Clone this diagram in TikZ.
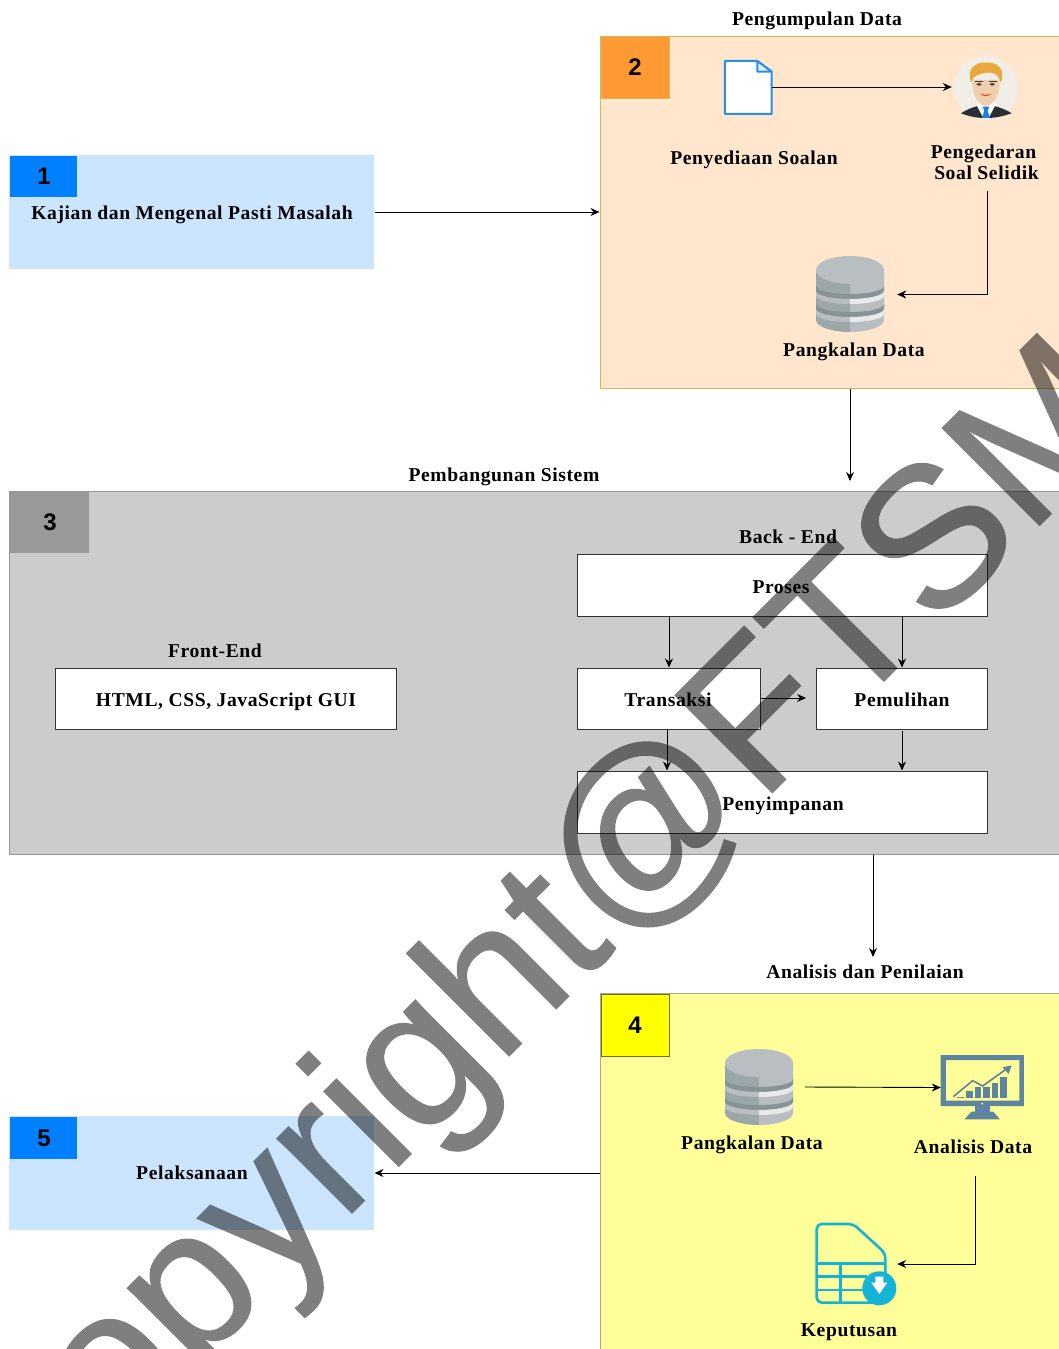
\documentclass[tikz,border=0pt]{standalone}
\usepackage{fontspec}
\setmainfont{Liberation Serif}
\newfontfamily\labfont[LetterSpace=3.0]{Liberation Serif}
\newfontfamily\numfont{Liberation Sans}
\newfontfamily\wmfont[FakeBold=0.6]{Liberation Sans}
\usetikzlibrary{arrows.meta}
\definecolor{dbL}{HTML}{9CA7A9}
\definecolor{dbR}{HTML}{B9BEC3}
\definecolor{dbD}{HTML}{879396}
\definecolor{dbW}{HTML}{E6EAEC}
\definecolor{mon}{HTML}{5F84A0}
\definecolor{tbl}{HTML}{14B4D6}
\definecolor{docb}{HTML}{2A8FE8}
\definecolor{lb}{HTML}{CCE5FF}
\definecolor{pch}{HTML}{FFE6CC}
\definecolor{pchb}{HTML}{D6B656}
\definecolor{gry}{HTML}{CCCCCC}
\definecolor{gryb}{HTML}{969696}
\definecolor{ylw}{HTML}{FFFF99}
\definecolor{ylwb}{HTML}{AFA58C}
\definecolor{tagb}{HTML}{007FFF}
\definecolor{tago}{HTML}{FF9933}
\definecolor{tagg}{HTML}{999999}
\definecolor{tagy}{HTML}{FFFF00}
\definecolor{tagyb}{HTML}{6E6E32}
\definecolor{hair}{HTML}{E8A83C}
\definecolor{skin}{HTML}{EFCFAE}
\definecolor{perbg}{HTML}{F1EDE7}
\definecolor{suit}{HTML}{2A2E35}
\definecolor{tie}{HTML}{1E7FD6}
\newcommand{\dbband}[5]{%
 \fill[#4] (-34,#1) arc[start angle=180,end angle=270,x radius=34pt,y radius=#3pt] -- (0,#2+#3) arc[start angle=270,end angle=180,x radius=34pt,y radius=#3pt] -- cycle;
 \fill[#5] (0,#1+#3) arc[start angle=270,end angle=360,x radius=34pt,y radius=#3pt] -- (34,#2) arc[start angle=0,end angle=-90,x radius=34pt,y radius=#3pt] -- cycle;}
\newcommand{\dbicon}[2]{%
\begin{scope}[shift={(#1,#2)}]
 \dbband{14}{64}{12}{dbL}{dbR}
 \dbband{30}{35}{8}{dbD}{dbD}
 \dbband{35}{40}{8}{dbR}{dbW}
 \dbband{48}{53}{8}{dbD}{dbD}
 \dbband{53}{58}{8}{dbR}{dbW}
 \fill[dbR] (0,14) ellipse[x radius=34pt,y radius=14pt];
 \fill[dbR] (0,14) rectangle (34,30);
\end{scope}}
\tikzset{
 lab/.style={font=\labfont\bfseries\fontsize{19.6}{21}\selectfont,inner sep=0pt,align=center,text=black,text height=17.5pt,text depth=3.5pt},
 num/.style={font=\numfont\bfseries\fontsize{24}{24}\selectfont,inner sep=0pt,text=black},
 whitebox/.style={draw=black!80,fill=white,line width=1pt,inner sep=0pt},
 conn/.style={draw=black,line width=0.9pt,-{Stealth[length=9pt,width=8pt]}},
 region/.style={inner sep=0pt,line width=1pt},
 icon/.style={inner sep=0pt,minimum size=0pt}
}
\begin{document}
\begin{tikzpicture}[x=1pt,y=-1pt]
\useasboundingbox (0,0) rectangle (1059,1349);
\clip (0,0) rectangle (1059,1349);
\fill[white] (0,0) rectangle (1059,1349);
% regions
\node[region,fill=lb,minimum width=365pt,minimum height=114pt] (b1) at (191.5,212) {};
\node[region,fill=lb,minimum width=365pt,minimum height=114pt] (b5) at (191.5,1173) {};
\node[region,fill=pch,draw=pchb,minimum width=462pt,minimum height=352pt] (b2) at (831,212) {};
\node[region,fill=gry,draw=gryb,minimum width=1053pt,minimum height=363pt] (b3) at (535.5,672.5) {};
\node[region,fill=ylw,draw=ylwb,minimum width=462pt,minimum height=359pt] (b4) at (831,1172.5) {};
% tags
\node[region,fill=tagb,minimum width=67pt,minimum height=41pt,num] (t1) at (43.5,176.5) {\hspace*{1pt}1};
\node[region,fill=tagb,minimum width=67pt,minimum height=42pt,num] (t5) at (43.5,1138) {\hspace*{1pt}5};
\node[region,fill=tago,draw=pchb,minimum width=68pt,minimum height=62pt,num] (t2) at (635,67) {2};
\node[region,fill=tagg,minimum width=79pt,minimum height=61pt,num] (t3) at (49.5,522.5) {\hspace*{1pt}3};
\node[region,fill=tagy,draw=tagyb,minimum width=68pt,minimum height=62pt,num] (t4) at (635,1025) {4};
% titles
\node[lab] (n1) at (192,212) {Kajian dan Mengenal Pasti Masalah};
\node[lab] (n5) at (192,1172) {Pelaksanaan};
\node[lab] (tt2) at (817,18) {Pengumpulan Data};
\node[lab] (tt3) at (504,474) {Pembangunan Sistem};
\node[lab] (tt4) at (865,971) {Analisis dan Penilaian};
\node[lab] (ss) at (754,157) {Penyediaan Soalan};
\node[lab] (ps1) at (983.5,151) {Pengedaran};
\node[lab] (ps2) at (986.5,172) {Soal Selidik};
\node[lab] (pd1) at (854,349) {Pangkalan Data};
\node[lab] (fe) at (215,650) {Front-End};
\node[lab] (be) at (788,536) {Back - End};
\node[lab] (pd2) at (752,1142) {Pangkalan Data};
\node[lab] (ad) at (973,1146) {Analisis Data};
\node[lab] (kp) at (849,1329) {Keputusan};
% white boxes
\node[whitebox,minimum width=341pt,minimum height=61pt] (gui) at (225.5,698.5) {};
\node[lab] (guit) at (226,699) {HTML, CSS, JavaScript GUI};
\node[whitebox,minimum width=410pt,minimum height=62pt] (pro) at (782,585) {};
\node[lab] (prot) at (781,586) {Proses};
\node[whitebox,minimum width=183pt,minimum height=61pt] (tra) at (668.5,698.5) {};
\node[lab] (trat) at (668,699) {Transaksi};
\node[whitebox,minimum width=171pt,minimum height=61pt] (pem) at (901.5,698.5) {};
\node[lab] (pemt) at (902,699) {Pemulihan};
\node[whitebox,minimum width=410pt,minimum height=62pt] (pen) at (782,802) {};
\node[lab] (pent) at (783,803) {Penyimpanan};
% icons: anchors
\node[icon,minimum width=47pt,minimum height=53pt] (doc) at (748.5,87) {};
\node[icon,minimum width=68pt,minimum height=66pt] (per) at (986,87) {};
\node[icon,minimum width=94pt,minimum height=76pt] (db1) at (850,294.5) {};
\node[icon,minimum width=92pt,minimum height=76pt] (db2) at (759,1087) {};
\node[icon,minimum width=83pt,minimum height=65pt] (mont) at (982.5,1087.5) {};
\node[icon,minimum width=162pt,minimum height=82pt] (tab) at (816,1264) {};
% doc icon
\begin{scope}[shift={(600,0)},x=0.3333pt,y=-0.3333pt]
 \draw[docb,fill=white,line width=2pt,line join=round] (375,183) -- (472,183) -- (515,215) -- (515,342) -- (375,342) -- cycle;
 \draw[docb,fill=white!85!docb,line width=2pt,line join=round] (472,183) -- (472,215) -- (515,215) -- cycle;
\end{scope}
% person icon
\begin{scope}[shift={(600,0)},x=0.3333pt,y=-0.3333pt]
 \fill[perbg] (1157,264) circle[radius=32pt];
 \fill[suit] (1083,340) .. controls (1105,325) and (1130,318) .. (1157,312) .. controls (1185,318) and (1212,325) .. (1235,340) .. controls (1205,350) and (1185,354) .. (1157,354) .. controls (1130,354) and (1110,350) .. (1083,340) -- cycle;
 \fill[white] (1128,312) -- (1157,300) -- (1188,312) -- (1168,350) -- (1148,350) -- cycle;
 \fill[tie] (1148,320) -- (1168,320) -- (1163,332) -- (1170,354) -- (1146,354) -- (1153,332) -- cycle;
 \fill[skin] (1118,240) -- (1118,262) .. controls (1122,300) and (1145,318) .. (1157,318) .. controls (1172,318) and (1194,300) .. (1198,262) -- (1198,240) -- cycle;
 \fill[hair] (1113,248) .. controls (1098,205) and (1130,185) .. (1157,188) .. controls (1190,185) and (1218,205) .. (1203,248) .. controls (1197,228) and (1185,215) .. (1160,218) .. controls (1140,222) and (1122,222) .. (1113,248) -- cycle;
 \fill[black!70] (1137,253) ellipse[x radius=2.5pt,y radius=1.3pt];
 \fill[black!70] (1177,253) ellipse[x radius=2.5pt,y radius=1.3pt];
 \fill[black!60!brown] (1124,242) rectangle (1148,245);
 \fill[black!60!brown] (1166,242) rectangle (1190,245);
 \fill[brown!70!red] (1140,281) .. controls (1150,285) and (1165,285) .. (1175,281) .. controls (1165,291) and (1150,291) .. (1140,281) -- cycle;
\end{scope}
% databases
\dbicon{850}{256}
\dbicon{759}{1049}
% monitor
\begin{scope}[shift={(600,980)},x=0.3333pt,y=-0.3333pt]
 \fill[mon,even odd rule] (1022,225) rectangle (1272,378) (1038,240) rectangle (1258,362);
 \fill[mon] (1125,378) rectangle (1170,395);
 \fill[mon] (1115,395) -- (1180,395) -- (1200,418) -- (1093,418) -- cycle;
 \fill[white] (1147,371) circle[radius=1pt];
 \fill[mon] (1098,332) rectangle (1118,355);
 \fill[mon] (1124,322) rectangle (1144,355);
 \fill[mon] (1150,322) rectangle (1170,355);
 \fill[mon] (1175,310) rectangle (1195,355);
 \fill[mon] (1200,292) rectangle (1220,355);
 \draw[mon,line width=1.6pt] (1060,350) -- (1118,302) -- (1148,318) -- (1222,265);
 \fill[mon] (1235,256) -- (1208,262) -- (1226,282) -- cycle;
 \fill[mon] (1070,350) rectangle (1092,355);
\end{scope}
% table icon
\begin{scope}[shift={(600,980)},x=0.3333pt,y=-0.3333pt]
 \draw[tbl,line width=2.6pt,line join=round,rounded corners=5pt] (820,968) -- (650,968) -- (650,732) -- (760,732) -- (856,820) -- (856,900);
 \draw[tbl,line width=2.6pt] (650,850) -- (856,850) (650,890) -- (800,890) (650,930) -- (790,930) (722,850) -- (722,968);
 \fill[tbl] (838,925) circle[radius=17pt];
 \fill[white] (826,890) -- (850,890) -- (850,908) -- (862,908) -- (838,942) -- (814,908) -- (826,908) -- cycle;
\end{scope}
% connectors
\coordinate (a3) at (850,481);
\coordinate (a4) at (873,957);
\coordinate (x5) at (987,191);
\coordinate (x6) at (975,1176);
\coordinate (tx1) at (669,616);
\coordinate (tx2) at (902,616);
\coordinate (tx3) at (806,698);
\coordinate (tx4) at (667,729);
\coordinate (tx5) at (902,731);
\coordinate (y5) at (805,1087);
\draw[conn] (b1) -- (b2.west |- b1);
\draw[conn] (doc.east) -- (per.west);
\draw[conn] (x5) |- (db1.east);
\draw[conn] (b2.south -| a3) -- (a3);
\draw[conn] (tx1) -- (tra.north -| tx1);
\draw[conn] (tx2) -- (pem.north -| tx2);
\draw[conn] (tra.east |- tx3) -- (tx3);
\draw[conn] (tx4) -- (pen.north -| tx4);
\draw[conn] (tx5) -- (pen.north -| tx5);
\draw[conn] (b3.south -| a4) -- (a4);
\draw[conn] (y5) -- (mont.west);
\draw[conn] (x6) |- (tab.east);
\draw[conn] (b4.west |- b5) -- (b5.east);
% watermark
\begin{scope}[transparency group,opacity=0.5]
\node[anchor=base west,rotate=45,inner sep=0pt,font=\wmfont\fontsize{200}{200}\selectfont,text=black] (wm) at (12,1553) {Copyright@FTSM};
\end{scope}
\end{tikzpicture}
\end{document}
